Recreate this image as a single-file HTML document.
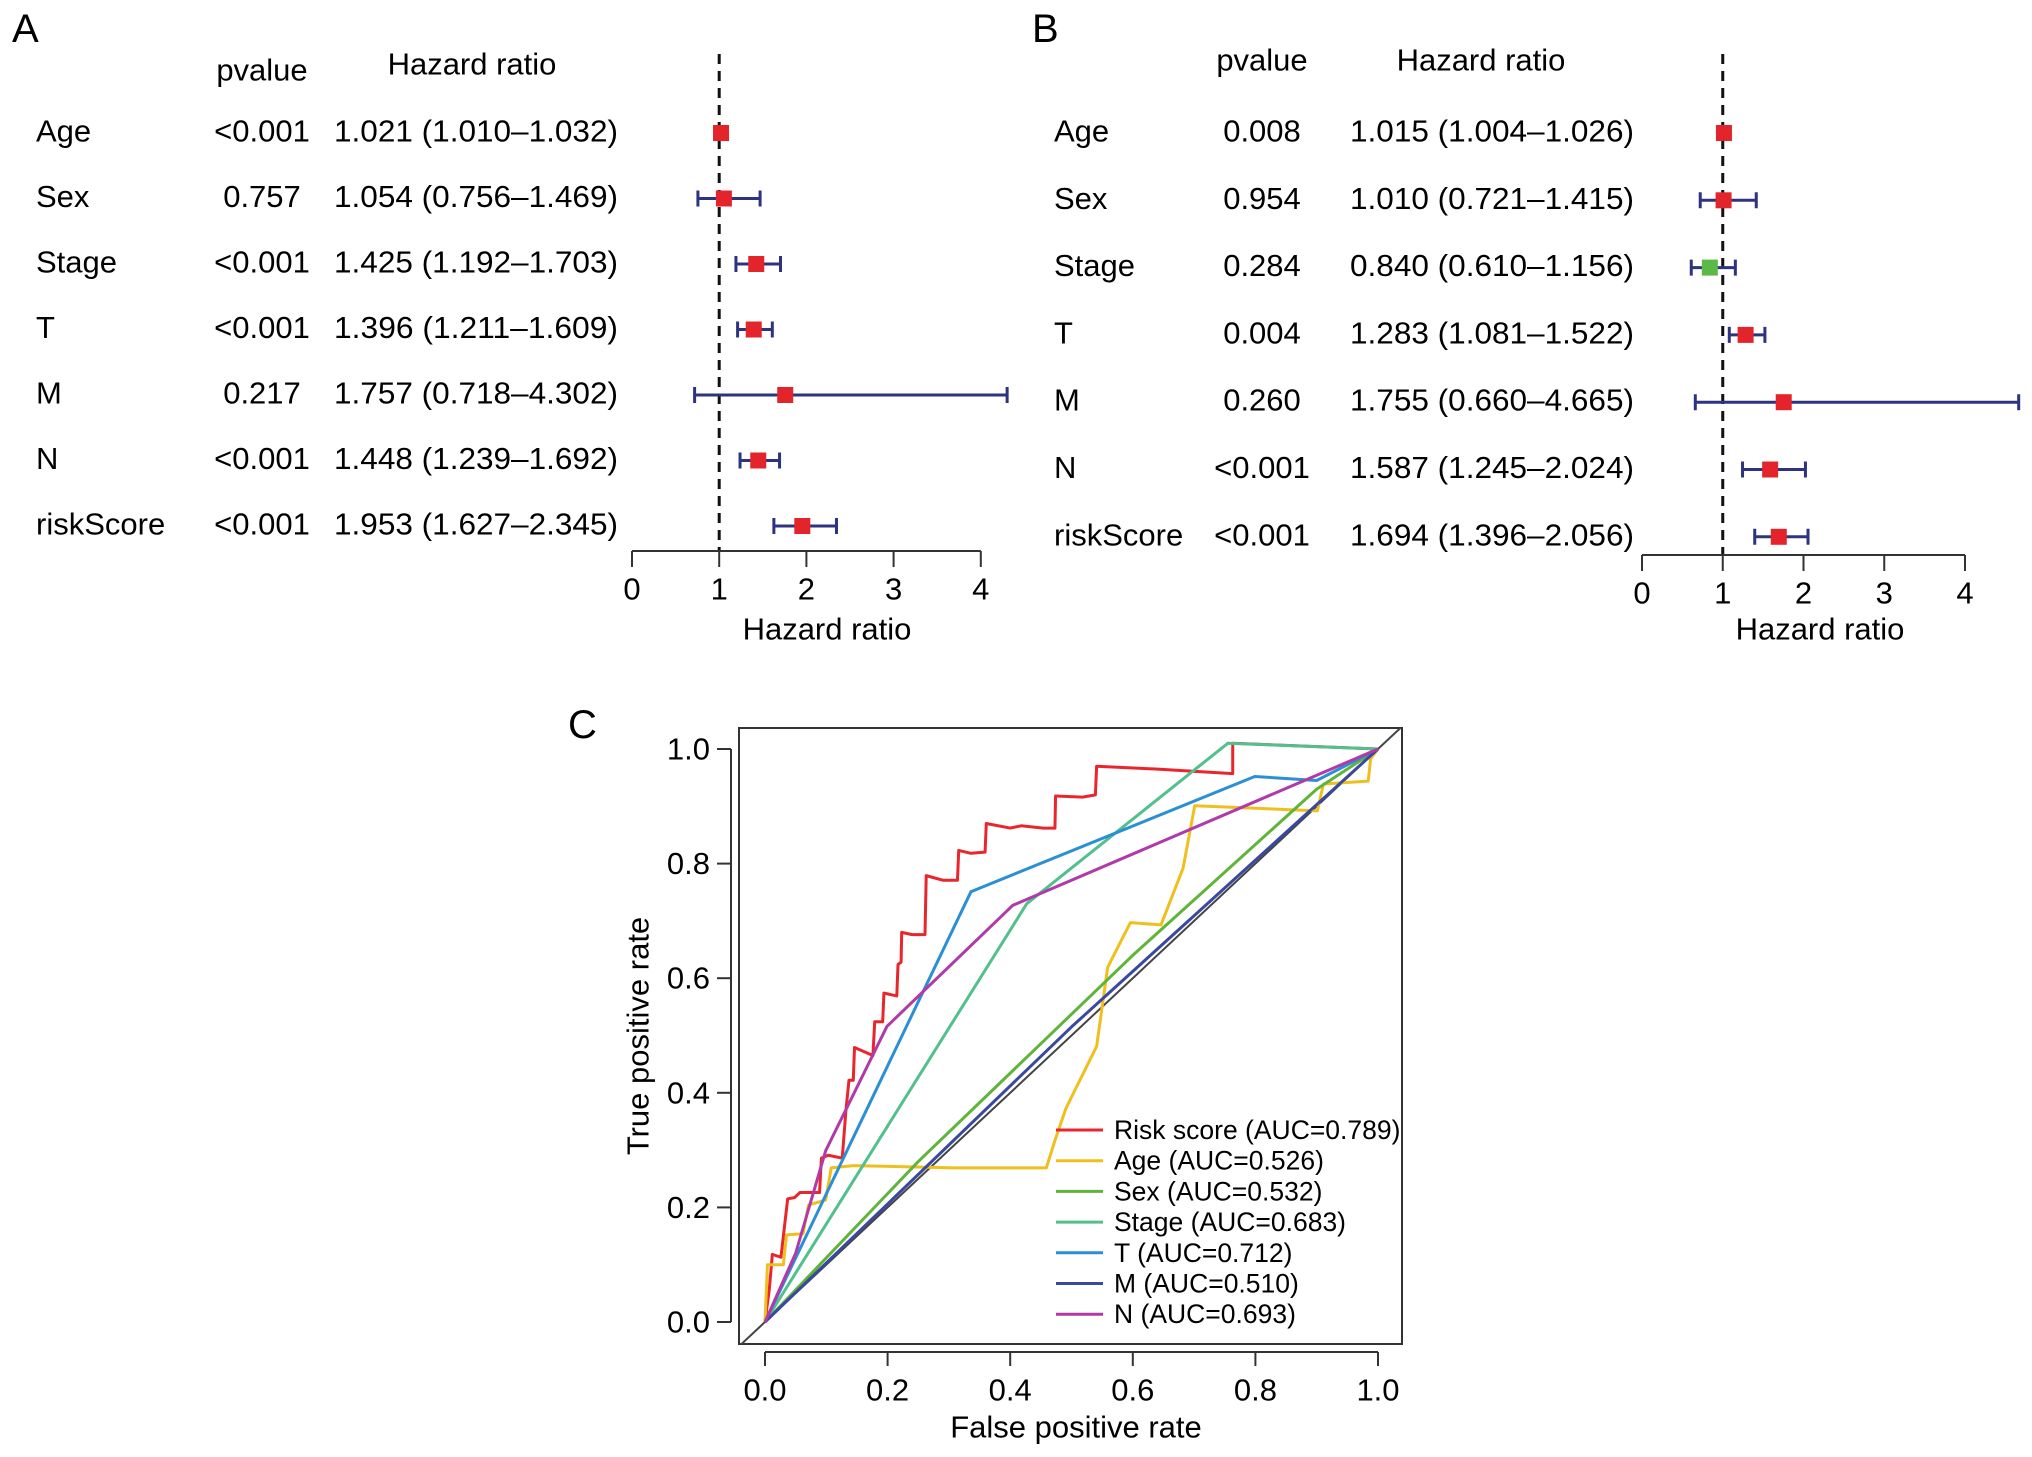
<!DOCTYPE html>
<html><head><meta charset="utf-8">
<style>
html,body{margin:0;padding:0;background:#fff;}
svg{display:block;font-family:"Liberation Sans",sans-serif;}
</style></head>
<body>
<svg id="fig" width="2032" height="1457" viewBox="0 0 2032 1457" xmlns="http://www.w3.org/2000/svg">
<rect width="2032" height="1457" fill="#fff"/>
<g id="panelA"></g>
<g id="panelB"></g>
<g id="panelC"></g>
</svg>
<script>
// ---- Forest A data ----
const varsA = ["Age","Sex","Stage","T","M","N","riskScore"];
const pA = ["<0.001","0.757","<0.001","<0.001","0.217","<0.001","<0.001"];
const hrA = [1.021,1.054,1.425,1.396,1.757,1.448,1.953];
const loA = [1.010,0.756,1.192,1.211,0.718,1.239,1.627];
const hiA = [1.032,1.469,1.703,1.609,4.302,1.692,2.345];
// ---- Forest B data ----
const varsB = ["Age","Sex","Stage","T","M","N","riskScore"];
const pB = ["0.008","0.954","0.284","0.004","0.260","<0.001","<0.001"];
const hrB = [1.015,1.010,0.840,1.283,1.755,1.587,1.694];
const loB = [1.004,0.721,0.610,1.081,0.660,1.245,1.396];
const hiB = [1.026,1.415,1.156,1.522,4.665,2.024,2.056];
const hrTicks = [0,1,2,3,4];
// ---- ROC data ----
const rocNames = ["Risk score (AUC=0.789)","Age (AUC=0.526)","Sex (AUC=0.532)","Stage (AUC=0.683)","T (AUC=0.712)","M (AUC=0.510)","N (AUC=0.693)"];
const riskFPR = [0,.007,.012,.026,.037,.048,.057,.089,.092,.103,.126,.132,.137,.144,.146,.176,.179,.192,.194,.215,.217,.222,.223,.240,.261,.263,.290,.314,.316,.336,.359,.361,.400,.418,.454,.473,.474,.518,.539,.541,.637,.763,.763,1];
const riskTPR = [0,.057,.118,.113,.215,.217,.226,.226,.286,.291,.286,.369,.422,.422,.479,.465,.524,.524,.574,.569,.624,.628,.680,.676,.676,.779,.771,.771,.823,.818,.820,.870,.862,.866,.862,.862,.918,.916,.920,.970,.965,.957,1.010,1];
const ageFPR = [0,.004,.030,.035,.062,.071,.099,.108,.144,.308,.459,.473,.491,.541,.559,.596,.646,.682,.701,.901,.911,.984,.988,1];
const ageTPR = [0,.100,.100,.152,.154,.204,.213,.269,.273,.269,.269,.317,.373,.481,.619,.697,.693,.792,.901,.892,.939,.944,.983,1];
const sexFPR = [0,.25,.6,.9,1];
const sexTPR = [0,.28,.64,.93,1];
const stageFPR = [0,.427,.755,1];
const stageTPR = [0,.730,1.010,1];
const tFPR = [0,.336,.799,.9,1];
const tTPR = [0,.751,.952,.945,1];
const mFPR = [0,.5,1];
const mTPR = [0,.515,1];
const nFPR = [0,.05,.099,.199,.404,1];
const nTPR = [0,.12,.299,.516,.727,1];
const rocTicks = [0,0.2,0.4,0.6,0.8,1.0];

const NS="http://www.w3.org/2000/svg";
function mk(parent,tag,attrs,text){const e=document.createElementNS(NS,tag);for(const k in attrs)e.setAttribute(k,attrs[k]);if(text!==undefined)e.textContent=text;parent.appendChild(e);return e;}
const FS=31;

function forest(g,cfg,vars,p,hr,lo,hi,letter){
  const X=v=>cfg.x0+v*cfg.unit;
  let t=mk(g,'text',{x:cfg.letterX,y:42,'font-size':40},letter);
  
  
  t=mk(g,'text',{x:cfg.pX,y:cfg.headY,'font-size':FS,'text-anchor':'middle','dominant-baseline':'central'},'pvalue');
  
  
  t=mk(g,'text',{x:cfg.hrHX,y:cfg.hrHY,'font-size':FS,'text-anchor':'middle','dominant-baseline':'central'},'Hazard ratio');
  
  
  let l=mk(g,'line',{x1:X(1),x2:X(1),y1:54,y2:cfg.axisY,stroke:'#111','stroke-width':3,'stroke-dasharray':'10,7'});
  
  
  vars.forEach((v,i)=>{
    const y=cfg.rowY0+i*cfg.rowH;
    let a=mk(g,'text',{x:cfg.labX,y:y,'font-size':FS,'dominant-baseline':'central'},v);
    
    
    a=mk(g,'text',{x:cfg.pX,y:y,'font-size':FS,'text-anchor':'middle','dominant-baseline':'central'},p[i]);
    
    
    a=mk(g,'text',{x:cfg.hrX,y:y,'font-size':FS,'dominant-baseline':'central',textLength:cfg.hrW,lengthAdjust:'spacingAndGlyphs'},hr[i].toFixed(3)+' ('+lo[i].toFixed(3)+'\u2013'+hi[i].toFixed(3)+')');
    
    
    const yy=y+2;
    let e=mk(g,'path',{d:`M${X(lo[i])},${yy}H${X(hi[i])}M${X(lo[i])},${yy-8}V${yy+8}M${X(hi[i])},${yy-8}V${yy+8}`,stroke:'#2e3380','stroke-width':3,fill:'none'});
    
    
    const col=hr[i]<1?'#5cb948':'#e4242b';
    e=mk(g,'rect',{x:X(hr[i])-8,y:yy-8,width:16,height:16,fill:col});
    
    
  });
  l=mk(g,'line',{x1:X(0),x2:X(4),y1:cfg.axisY,y2:cfg.axisY,stroke:'#333','stroke-width':2});
  
  
  hrTicks.forEach(v=>{
    let k=mk(g,'line',{x1:X(v),x2:X(v),y1:cfg.axisY,y2:cfg.axisY+16,stroke:'#333','stroke-width':2});
    
    
    k=mk(g,'text',{x:X(v),y:cfg.axisY+38,'font-size':FS,'text-anchor':'middle','dominant-baseline':'central'},String(v));
    
    
  });
  t=mk(g,'text',{x:cfg.xlabX,y:629,'font-size':FS,'text-anchor':'middle','dominant-baseline':'central'},'Hazard ratio');
  
  
}
forest(document.getElementById('panelA'),{letterX:12,x0:632,unit:87.2,axisY:551,rowY0:131,rowH:65.5,labX:36,pX:262,hrX:334,hrW:284,headY:70,hrHX:472,hrHY:64,xlabX:827},varsA,pA,hrA,loA,hiA,'A');
forest(document.getElementById('panelB'),{letterX:1032,x0:1642,unit:80.75,axisY:555,rowY0:131,rowH:67.3,labX:1054,pX:1262,hrX:1350,hrW:284,headY:60,hrHX:1481,hrHY:60,xlabX:1820},varsB,pB,hrB,loB,hiB,'B');

// ---- ROC ----
(function(){
  const g=document.getElementById('panelC');
  const X=v=>765+v*613, Y=v=>1322-v*573;
  let t=mk(g,'text',{x:568,y:738,'font-size':40},'C');
  
  
  const defs=mk(g,'defs',{});
  const cp=mk(defs,'clipPath',{id:'plotclip'});
  mk(cp,'rect',{x:739,y:728,width:663,height:616});
  let b=mk(g,'rect',{x:739,y:728,width:663,height:616,fill:'none',stroke:'#333','stroke-width':2});
  
  
  let d=mk(g,'line',{x1:X(-0.05),y1:Y(-0.05),x2:X(1.05),y2:Y(1.05),stroke:'#444','stroke-width':2,'clip-path':'url(#plotclip)'});
  
  
  const series=[[riskFPR,riskTPR,'#e8262b'],[ageFPR,ageTPR,'#efbf1e'],[sexFPR,sexTPR,'#5fb43a'],[stageFPR,stageTPR,'#52c08c'],[tFPR,tTPR,'#2b8fd6'],[mFPR,mTPR,'#3a49a0'],[nFPR,nTPR,'#b13aa8']];
  const names=['risk-score-curve','age-curve','sex-curve','stage-curve','t-curve','m-curve','n-curve'];
  series.forEach((s,i)=>{
    const pts=s[0].map((x,j)=>X(x)+','+Y(s[1][j])).join(' ');
    const pl=mk(g,'polyline',{points:pts,fill:'none',stroke:s[2],'stroke-width':3,'stroke-linejoin':'round'});
    
    
  });
  let ax=mk(g,'line',{x1:X(0),x2:X(1),y1:1352,y2:1352,stroke:'#333','stroke-width':2});
  
  
  ax=mk(g,'line',{x1:731,x2:731,y1:Y(0),y2:Y(1),stroke:'#333','stroke-width':2});
  
  
  rocTicks.forEach(v=>{
    let k=mk(g,'line',{x1:X(v),x2:X(v),y1:1352,y2:1366,stroke:'#333','stroke-width':2});
    
    
    k=mk(g,'text',{x:X(v),y:1390,'font-size':FS,'text-anchor':'middle','dominant-baseline':'central'},v.toFixed(1));
    
    
    k=mk(g,'line',{x1:717,x2:731,y1:Y(v),y2:Y(v),stroke:'#333','stroke-width':2});
    
    
    k=mk(g,'text',{x:710,y:Y(v),'font-size':FS,'text-anchor':'end','dominant-baseline':'central'},v.toFixed(1));
    
    
  });
  t=mk(g,'text',{x:1076,y:1427,'font-size':FS,'text-anchor':'middle','dominant-baseline':'central'},'False positive rate');
  
  
  t=mk(g,'text',{x:638,y:1036,'font-size':FS,'text-anchor':'middle','dominant-baseline':'central',transform:'rotate(-90 638 1036)'},'True positive rate');
  
  
  rocNames.forEach((nm,i)=>{
    const y=1130+i*30.7;
    let e=mk(g,'line',{x1:1056,x2:1103,y1:y,y2:y,stroke:series[i][2],'stroke-width':3});
    
    
    e=mk(g,'text',{x:1114,y:y,'font-size':26.5,'dominant-baseline':'central'},nm);
    
    
  });
})();
</script>
</body></html>
